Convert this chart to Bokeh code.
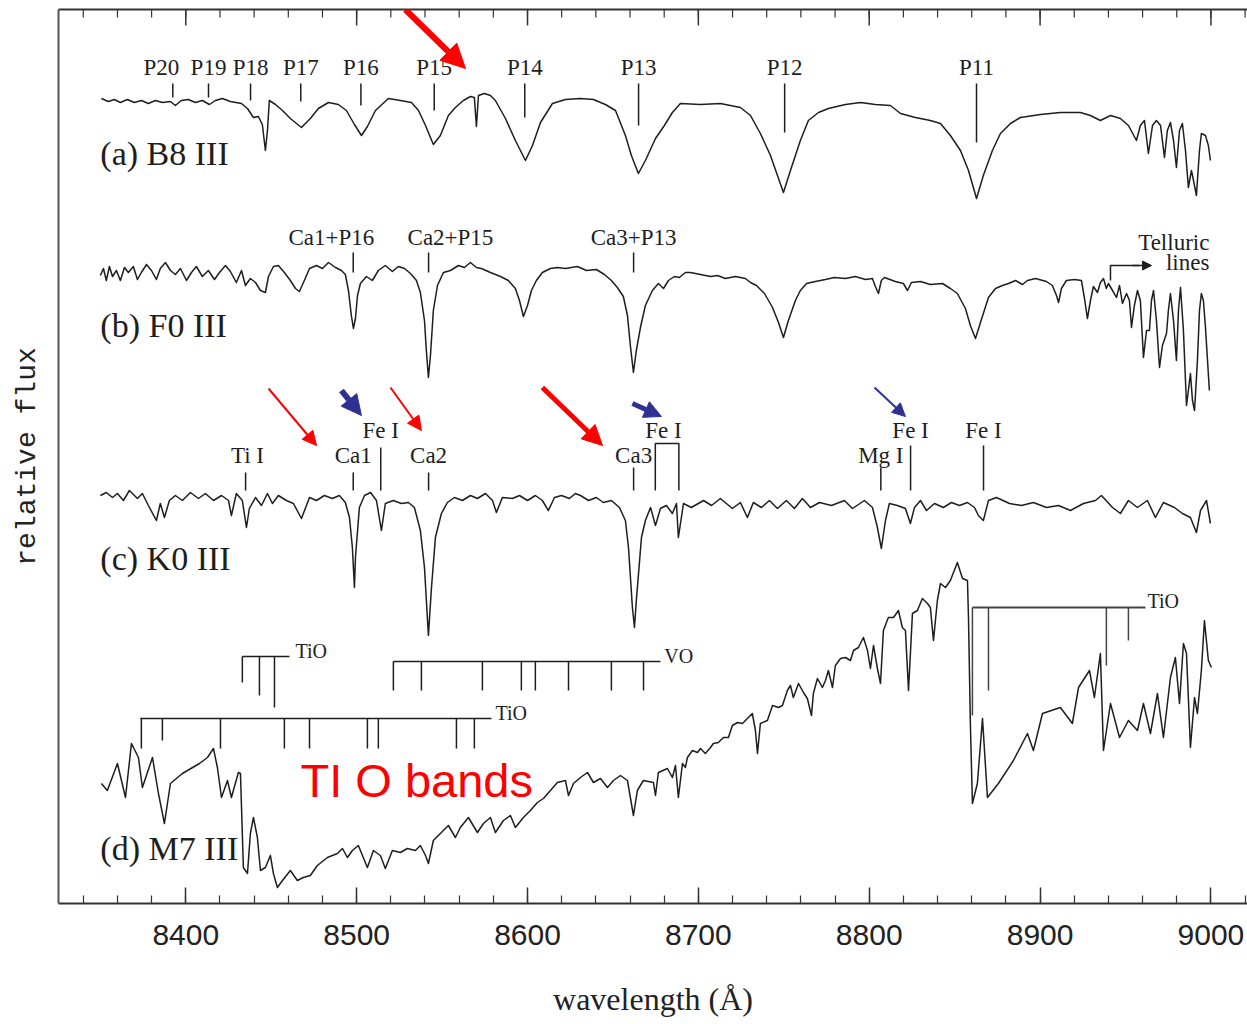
from bokeh.plotting import figure
from bokeh.models import Range1d, LinearAxis, FixedTicker, Arrow, NormalHead
from bokeh.core.properties import value
from bokeh.embed import file_html
from bokeh.resources import INLINE

# ---------------- data ----------------
major_ticks = [8400, 8500, 8600, 8700, 8800, 8900, 9000]
minor_ticks = list(range(8340, 9021, 20))

# (a) B8 III
a_wl = [8350.6, 8354.7, 8358.2, 8361.7, 8365.8, 8369.9, 8374.0, 8378.1, 8382.2, 8386.3,
        8391.0, 8393.9, 8397.4, 8401.5, 8405.6, 8409.7, 8413.8, 8417.3, 8421.4, 8426.1,
        8432.6, 8436.1, 8439.6, 8442.5, 8444.8, 8446.6, 8447.8, 8448.9, 8452.5, 8456.6,
        8461.2, 8467.7, 8472.9, 8477.6, 8483.5, 8489.3, 8494.0, 8498.7, 8502.8, 8506.3,
        8511.0, 8518.6, 8525.6, 8532.1, 8536.2, 8540.3, 8544.9, 8549.0, 8553.7, 8557.8,
        8562.5, 8566.6, 8568.9, 8570.1, 8571.3, 8574.8, 8578.3, 8581.2, 8587.1, 8592.9,
        8598.8, 8602.9, 8607.6, 8614.6, 8622.2, 8631.0, 8638.6, 8645.6, 8651.5, 8657.3,
        8660.8, 8664.9, 8669.0, 8674.9, 8680.1, 8684.8, 8689.5, 8701.2, 8712.9, 8724.6,
        8730.5, 8736.3, 8742.2, 8746.3, 8749.8, 8753.9, 8759.7, 8764.4, 8770.3, 8776.1,
        8786.1, 8794.9, 8803.6, 8812.4, 8818.3, 8827.0, 8835.8, 8841.7, 8847.5, 8853.4,
        8858.1, 8862.8, 8866.8, 8872.1, 8876.8, 8882.7, 8888.5, 8900.2, 8911.9, 8923.6,
        8929.5, 8935.3, 8941.2, 8947.0, 8951.7, 8956.4, 8958.7, 8961.1, 8963.4, 8965.8,
        8968.1, 8970.5, 8972.8, 8974.5, 8976.3, 8978.1, 8979.8, 8981.6, 8983.3, 8985.1,
        8986.8, 8988.6, 8989.8, 8991.5, 8993.3, 8994.4, 8996.8, 8998.5, 8999.7]
a_flux = [805, 802, 804, 801, 804, 801, 803, 800, 803, 801,
          802, 798, 803, 804, 801, 803, 799, 803, 805, 802,
          800, 795, 786, 787, 779, 753, 773, 803, 799, 793,
          785, 776, 785, 795, 801, 799, 793, 779, 768, 777,
          793, 805, 803, 801, 793, 778, 759, 768, 788, 796,
          803, 807, 806, 777, 808, 810, 808, 803, 785, 763,
          743, 758, 781, 800, 804, 805, 804, 799, 793, 768,
          748, 730, 743, 765, 778, 791, 800, 799, 800, 796,
          788, 770, 748, 728, 711, 733, 763, 783, 791, 795,
          799, 801, 799, 798, 790, 786, 783, 780, 768, 753,
          733, 705, 728, 753, 770, 780, 786, 789, 791, 791,
          788, 783, 788, 785, 778, 763, 778, 783, 750, 778,
          783, 778, 746, 773, 781, 763, 736, 773, 780, 753,
          716, 733, 723, 708, 753, 770, 768, 758, 743]

# (b) F0 III
b_wl = [8350.0, 8351.8, 8353.5, 8355.3, 8357.1, 8359.4, 8361.7, 8364.1, 8366.4, 8369.3,
        8371.7, 8374.0, 8377.0, 8379.9, 8382.8, 8385.1, 8388.1, 8391.0, 8393.9, 8396.9,
        8400.4, 8403.3, 8406.2, 8409.7, 8413.2, 8416.8, 8419.7, 8423.2, 8426.1, 8429.6,
        8432.6, 8434.9, 8437.8, 8440.8, 8443.7, 8446.6, 8448.4, 8451.3, 8454.2, 8457.7,
        8461.2, 8464.2, 8466.5, 8469.4, 8472.4, 8476.5, 8480.0, 8483.5, 8487.6, 8491.1,
        8493.4, 8495.2, 8496.9, 8498.1, 8499.3, 8500.5, 8502.2, 8505.7, 8509.2, 8512.7,
        8516.8, 8520.9, 8524.4, 8528.0, 8531.5, 8535.0, 8537.3, 8539.7, 8540.8, 8542.0,
        8543.2, 8544.9, 8547.3, 8550.8, 8554.9, 8559.6, 8563.1, 8566.6, 8570.1, 8573.0,
        8578.3, 8584.2, 8588.8, 8592.9, 8595.3, 8597.6, 8600.0, 8602.3, 8605.2, 8608.7,
        8613.4, 8617.5, 8622.2, 8629.2, 8634.5, 8640.3, 8645.0, 8649.1, 8652.6, 8656.1,
        8658.5, 8660.2, 8662.0, 8663.7, 8666.1, 8669.0, 8673.1, 8676.6, 8679.6, 8682.5,
        8686.0, 8688.9, 8692.4, 8695.4, 8701.2, 8707.1, 8711.2, 8715.8, 8721.7, 8727.5,
        8730.5, 8734.0, 8738.7, 8743.4, 8746.9, 8749.8, 8752.7, 8756.8, 8759.7, 8763.3,
        8768.5, 8774.4, 8779.6, 8786.1, 8791.9, 8797.8, 8801.9, 8803.6, 8805.4, 8807.1,
        8808.9, 8815.3, 8820.0, 8822.4, 8824.7, 8830.0, 8835.8, 8842.9, 8847.5, 8851.6,
        8856.3, 8859.2, 8862.2, 8865.1, 8869.8, 8873.9, 8878.0, 8881.5, 8885.6, 8889.7,
        8892.6, 8897.3, 8903.7, 8907.2, 8909.6, 8910.8, 8912.5, 8915.4, 8920.1, 8924.2,
        8926.0, 8927.7, 8929.5, 8931.2, 8933.6, 8935.3, 8937.1, 8938.8, 8940.0, 8942.4,
        8944.7, 8946.5, 8948.2, 8950.6, 8952.3, 8953.5, 8955.2, 8957.0, 8958.7, 8960.5,
        8962.3, 8964.0, 8965.2, 8966.4, 8968.1, 8969.9, 8971.6, 8974.0, 8975.1, 8976.3,
        8978.1, 8979.8, 8981.0, 8982.2, 8983.9, 8985.7, 8986.8, 8988.0, 8989.2, 8990.4,
        8992.1, 8993.3, 8994.4, 8995.6, 8996.8, 8998.0, 8999.1]
b_flux = [628, 635, 623, 637, 627, 633, 623, 636, 631, 637,
          624, 631, 639, 633, 624, 635, 641, 633, 629, 635,
          623, 631, 637, 627, 633, 624, 631, 638, 632, 621,
          633, 618, 625, 621, 613, 611, 627, 637, 638, 631,
          623, 615, 612, 623, 635, 638, 635, 641, 636, 633,
          629, 613, 588, 575, 585, 608, 620, 627, 623, 633,
          638, 632, 637, 635, 630, 623, 611, 583, 553, 526,
          548, 593, 618, 631, 633, 638, 636, 641, 636, 635,
          631, 627, 623, 615, 603, 587, 598, 613, 623, 631,
          635, 636, 635, 637, 633, 634, 629, 623, 616, 607,
          588, 558, 531, 553, 576, 598, 613, 620, 615, 623,
          627, 626, 631, 631, 629, 627, 628, 625, 627, 625,
          621, 618, 610, 596, 581, 566, 583, 603, 613, 620,
          622, 624, 626, 625, 627, 624, 625, 617, 610, 623,
          626, 622, 620, 613, 621, 622, 619, 620, 615, 610,
          595, 578, 565, 581, 606, 615, 618, 620, 623, 619,
          623, 625, 622, 618, 608, 601, 615, 623, 624, 623,
          605, 585, 603, 617, 611, 621, 625, 615, 620, 613,
          606, 618, 600, 610, 603, 576, 598, 613, 603, 546,
          573, 573, 603, 613, 583, 536, 558, 570, 593, 610,
          583, 543, 593, 616, 573, 498, 513, 530, 503, 493,
          543, 593, 610, 603, 576, 543, 513]

# (c) K0 III
c_wl = [8350.0, 8353.5, 8357.1, 8360.0, 8363.5, 8367.0, 8371.7, 8374.6, 8378.1, 8382.8,
        8385.1, 8387.5, 8390.4, 8393.9, 8398.0, 8402.7, 8407.4, 8411.5, 8416.2, 8420.9,
        8425.0, 8426.7, 8429.6, 8433.1, 8435.5, 8437.2, 8440.8, 8444.3, 8447.8, 8450.7,
        8454.2, 8458.9, 8463.0, 8467.7, 8472.4, 8476.5, 8481.1, 8485.8, 8489.9, 8493.4,
        8495.8, 8497.5, 8498.7, 8499.3, 8501.6, 8504.6, 8508.1, 8511.6, 8514.5, 8516.8,
        8521.5, 8526.2, 8530.3, 8533.8, 8537.3, 8539.7, 8542.0, 8543.8, 8546.1, 8549.6,
        8553.1, 8557.2, 8561.9, 8566.6, 8570.7, 8575.4, 8579.5, 8581.8, 8585.3, 8591.2,
        8595.3, 8600.0, 8604.6, 8608.7, 8612.2, 8615.8, 8619.9, 8624.5, 8628.0, 8631.0,
        8635.7, 8640.3, 8644.4, 8649.1, 8653.8, 8657.3, 8659.1, 8661.4, 8662.6, 8663.7,
        8666.7, 8669.0, 8672.0, 8674.9, 8677.8, 8681.3, 8684.8, 8687.2, 8688.3, 8691.3,
        8695.9, 8703.0, 8707.7, 8712.9, 8719.9, 8724.6, 8728.7, 8732.2, 8736.9, 8741.6,
        8746.3, 8751.5, 8756.2, 8760.9, 8765.6, 8770.9, 8777.9, 8785.5, 8790.2, 8797.2,
        8801.9, 8804.8, 8807.1, 8809.5, 8811.8, 8816.5, 8821.2, 8824.1, 8826.5, 8830.0,
        8833.5, 8838.2, 8843.4, 8848.1, 8852.8, 8857.5, 8861.6, 8863.9, 8866.8, 8869.8,
        8874.5, 8882.1, 8889.1, 8896.1, 8903.7, 8910.8, 8917.8, 8925.4, 8932.4, 8935.9,
        8942.4, 8947.0, 8951.7, 8957.0, 8962.8, 8967.5, 8972.2, 8978.6, 8983.3, 8988.0,
        8991.5, 8993.9, 8997.4, 8999.7]
c_flux = [408, 411, 406, 410, 403, 413, 405, 410, 398, 383,
          400, 386, 403, 408, 403, 411, 405, 410, 403, 408,
          403, 388, 410, 403, 376, 395, 406, 398, 410, 400,
          408, 403, 400, 385, 406, 403, 408, 405, 408, 401,
          386, 356, 316, 346, 396, 408, 411, 403, 373, 400,
          403, 400, 401, 396, 373, 336, 268, 316, 366, 390,
          401, 406, 403, 408, 405, 410, 403, 391, 406, 405,
          408, 403, 408, 403, 393, 406, 408, 405, 410, 408,
          403, 406, 401, 403, 396, 383, 356, 296, 276, 303,
          366, 383, 396, 378, 395, 398, 390, 400, 366, 400,
          396, 403, 398, 405, 395, 401, 386, 401, 396, 403,
          395, 403, 395, 405, 396, 401, 398, 403, 395, 403,
          396, 376, 355, 383, 400, 398, 395, 380, 396, 403,
          393, 400, 396, 401, 398, 401, 396, 388, 383, 403,
          406, 400, 398, 401, 396, 398, 393, 400, 403, 408,
          396, 390, 403, 396, 403, 386, 401, 396, 390, 386,
          371, 393, 403, 380]

# (d) M7 III
d_wl = [8350.6, 8354.1, 8360.0, 8364.7, 8368.2, 8372.3, 8374.6, 8380.5, 8384.0, 8387.5,
        8391.0, 8398.0, 8408.0, 8412.7, 8416.2, 8418.5, 8420.9, 8424.4, 8426.7, 8430.8,
        8432.0, 8433.7, 8436.1, 8437.8, 8439.6, 8441.9, 8443.7, 8446.6, 8449.5, 8451.3,
        8453.6, 8456.6, 8461.2, 8465.3, 8468.8, 8472.9, 8477.0, 8482.9, 8488.7, 8491.7,
        8494.6, 8497.5, 8501.0, 8506.3, 8509.8, 8513.9, 8516.8, 8520.9, 8525.6, 8529.7,
        8534.4, 8537.3, 8540.3, 8542.0, 8544.9, 8549.0, 8553.7, 8557.8, 8560.7, 8565.4,
        8570.7, 8574.2, 8578.3, 8581.2, 8585.9, 8590.0, 8592.9, 8597.6, 8601.7, 8605.8,
        8609.3, 8613.4, 8617.5, 8622.2, 8624.0, 8626.9, 8631.0, 8635.1, 8638.6, 8642.7,
        8646.8, 8650.3, 8654.4, 8658.5, 8660.2, 8662.0, 8664.3, 8667.8, 8673.7, 8674.9,
        8676.6, 8681.9, 8684.8, 8686.6, 8688.3,
        8690.7, 8692.4, 8693.6, 8696.5, 8699.5, 8701.2, 8704.1, 8707.1, 8708.8, 8711.7,
        8714.7, 8717.6, 8719.9, 8722.9, 8725.8, 8728.7, 8731.6, 8733.4, 8734.6, 8736.3,
        8740.4, 8743.4, 8746.9, 8749.2, 8752.1, 8753.9, 8755.6, 8758.6, 8761.5, 8763.8,
        8766.2, 8767.3, 8769.7, 8772.6, 8774.4, 8776.1, 8778.5, 8780.2, 8783.2, 8786.1,
        8789.0, 8790.8, 8793.7, 8796.6, 8799.0, 8800.7, 8802.5, 8804.8, 8806.6, 8808.3,
        8811.2, 8814.2, 8817.1, 8819.4, 8821.2, 8823.0, 8825.3, 8828.2, 8831.1, 8834.1,
        8835.8, 8837.6, 8839.9, 8841.7, 8844.6, 8847.5, 8851.6, 8854.6, 8857.5, 8858.1,
        8859.2, 8860.4,
        8863.3, 8866.3, 8869.2, 8875.6, 8884.4, 8892.6, 8896.1, 8901.4, 8911.9, 8918.9,
        8922.5, 8928.9, 8931.8, 8935.3, 8937.1, 8941.2, 8946.5, 8951.7, 8957.0, 8960.5,
        8964.6, 8968.7, 8972.2, 8976.3, 8979.2, 8981.6, 8983.9, 8985.7, 8988.0, 8990.4,
        8992.1, 8994.4, 8996.2, 8998.5, 9000.3]
d_flux = [120, 113, 140, 106, 160, 146, 116, 146, 110, 80,
          120, 130, 140, 146, 155, 136, 106, 123, 106, 131,
          130, 36, 30, 70, 86, 66, 33, 36, 48, 30,
          16, 23, 33, 23, 26, 28, 38, 46, 50, 55,
          46, 53, 58, 36, 53, 48, 35, 53, 51, 55,
          53, 58, 48, 40, 63, 70, 78, 66, 76, 86,
          71, 80, 86, 71, 83, 88, 76, 86, 93, 101,
          105, 113, 121, 123, 108, 120, 126, 131, 121, 125,
          116, 123, 128, 123, 106, 88, 113, 123, 121, 108,
          131, 135, 126, 138, 106,
          140, 136, 146, 153, 151, 155, 150, 156, 160, 161,
          166, 166, 178, 181, 180, 185, 190, 173, 150, 180,
          183, 198, 196, 198, 213, 218, 206, 220, 211, 205,
          188, 210, 225, 216, 223, 233, 216, 238, 245, 246,
          243, 253, 256, 266, 253, 235, 258, 235, 220, 273,
          286, 286, 293, 276, 273, 213, 290, 293, 305, 300,
          296, 263, 303, 320, 316, 323, 341, 325, 323, 286,
          180, 100,
          120, 185, 106, 120, 143, 170, 153, 190, 196, 180,
          216, 233, 206, 250, 153, 200, 166, 183, 173, 200,
          170, 210, 166, 226, 246, 200, 260, 250, 156, 206,
          190, 233, 283, 243, 236]

# panel names
panel_names = ["(a) B8 III", "(b) F0 III", "(c) K0 III", "(d) M7 III"]
panel_name_x = [8350.0, 8350.0, 8350.0, 8350.0]
panel_name_y = [750, 578, 345, 55]

# (a) Paschen lines
paschen_names = ["P20", "P19", "P18", "P17", "P16", "P15", "P14", "P13", "P12", "P11"]
paschen_wl = [8392.4, 8413.3, 8437.9, 8467.3, 8502.5, 8545.4, 8598.4, 8665.0, 8750.5, 8862.8]
paschen_label_x = [8385.7, 8413.3, 8437.9, 8467.3, 8502.5, 8545.4, 8598.4, 8665.0, 8750.5, 8862.8]
paschen_tick_top = [820] * 10
paschen_tick_bottom = [806, 806, 803, 802, 798, 793, 786, 778, 771, 761]
paschen_label_y = [836] * 10

# (b) Ca + Paschen blends
b_names = ["Ca1+P16", "Ca2+P15", "Ca3+P13"]
b_line_wl = [8498.0, 8542.1, 8662.1]
b_label_x = [8485.2, 8554.9, 8662.1]
b_tick_top = [651, 651, 651]
b_tick_bottom = [631, 631, 631]
b_label_y = [666, 666, 666]

# (c) metal lines
c_tick_wl = [8435.0, 8498.0, 8514.1, 8542.1, 8662.1, 8806.8, 8824.2, 8866.9]
c_tick_top = [431, 431, 456, 431, 436, 436, 458, 458]
c_tick_bottom = [413] * 8
c_fe_pair_x = [8674.8, 8674.8, 8688.6, 8688.6]
c_fe_pair_y = [413, 460, 460, 413]
c_names = ["Ti I", "Ca1", "Fe I", "Ca2", "Ca3", "Fe I", "Mg I", "Fe I", "Fe I"]
c_label_x = [8436.1, 8498.0, 8514.1, 8542.1, 8662.1, 8679.6, 8806.8, 8824.2, 8866.9]
c_label_y = [448, 448, 473, 448, 448, 473, 448, 473, 473]

# telluric marker
tell_x = [8941.2, 8941.2, 8958.0]
tell_y = [623, 638, 638]
tell_names = ["Telluric", "lines"]
tell_label_x = [8999.1, 8999.1]
tell_label_y = [661, 641]

# (d) molecular band combs
tio1_span = [8433.1, 8460.7]; tio1_y = 247
tio1_teeth = [8433.1, 8443.1, 8451.9]; tio1_bottom = [221, 208, 196]
vo_span = [8521.5, 8677.8]; vo_y = 242
vo_teeth = [8521.5, 8537.9, 8573.6, 8596.4, 8604.6, 8624.0, 8649.1, 8667.9]; vo_bottom = [213] * 8
tio2_span = [8373.4, 8578.9]; tio2_y = 185
tio2_teeth = [8374.0, 8386.3, 8420.3, 8457.7, 8472.4, 8506.3, 8512.7, 8558.4, 8568.9]
tio2_bottom = [155, 163, 155, 155, 155, 155, 155, 155, 155]
tio3_span = [8860.4, 8961.7]; tio3_y = 296
tio3_teeth = [8860.4, 8869.8, 8938.8, 8951.7]; tio3_bottom = [188, 213, 238, 263]
band_names = ["TiO", "VO", "TiO", "TiO"]
band_label_x = [8464.2, 8680.1, 8581.2, 8962.8]
band_label_y = [253, 248, 191, 303]

# red annotation
note_text = ["TI O bands"]
note_x = [8467.1]
note_y = [123]

# arrows
arrow_x0 = [8528.5, 8448.4, 8491.1, 8519.8, 8608.7, 8661.4, 8803.1]
arrow_y0 = [894, 515, 513, 516, 516, 500, 516]
arrow_x1 = [8563.7, 8476.5, 8502.8, 8537.9, 8643.9, 8678.4, 8821.2]
arrow_y1 = [835, 458, 488, 473, 458, 487, 487]
arrow_color = ["#ff0000", "#ff0000", "#2e3192", "#ff0000", "#ff0000", "#2e3192", "#2e3192"]
arrow_width = [6, 2, 6, 2, 5, 5, 2]
arrow_head = [24, 14, 20, 14, 20, 17, 13]

# top-frame tick lengths (flux units, 1 unit = 1 px here)
Y_TOP = 894
MAJOR_LEN = 16
MINOR_LEN = 8

# ---------------- figure ----------------
INK = "#1e1e1e"
AX = "#333333"
SERIF = value("Liberation Serif")

p = figure(width=1247, height=1024, output_backend="svg", toolbar_location=None,
           x_range=Range1d(8325.5, 9021.4), y_range=Range1d(0, Y_TOP),
           x_axis_location=None, y_axis_location=None,
           min_border_left=58, min_border_right=0, min_border_top=9, min_border_bottom=121)
p.outline_line_color = None
p.background_fill_color = "white"
p.border_fill_color = "white"
p.xgrid.visible = False
p.ygrid.visible = False

ticker = FixedTicker(ticks=major_ticks, minor_ticks=minor_ticks)

bottom = LinearAxis(ticker=ticker, axis_label="wavelength (Å)")
bottom.axis_line_width = 2
bottom.axis_line_color = AX
bottom.major_tick_in = MAJOR_LEN
bottom.major_tick_out = 0
bottom.minor_tick_in = MINOR_LEN
bottom.minor_tick_out = 0
bottom.major_tick_line_width = 1.5
bottom.minor_tick_line_width = 1.2
bottom.major_tick_line_color = AX
bottom.minor_tick_line_color = AX
bottom.major_label_text_font = "Liberation Sans"
bottom.major_label_text_font_size = "30px"
bottom.major_label_text_color = "#222222"
bottom.major_label_standoff = 21
bottom.axis_label_text_font = "Liberation Serif"
bottom.axis_label_text_font_size = "32px"
bottom.axis_label_text_font_style = "normal"
bottom.axis_label_text_color = "#222222"
bottom.axis_label_standoff = 33
p.add_layout(bottom, "below")

# top frame line (no ticks / labels of its own)
top = LinearAxis(ticker=FixedTicker(ticks=[]))
top.axis_line_width = 2
top.axis_line_color = AX
top.major_tick_line_color = None
top.minor_tick_line_color = None
top.major_label_standoff = 0
p.add_layout(top, "above")

left = LinearAxis(ticker=FixedTicker(ticks=[]), axis_label="relative flux")
left.axis_line_width = 2
left.axis_line_color = "#555555"
left.major_tick_line_color = None
left.minor_tick_line_color = None
left.major_label_standoff = 0
left.axis_label_text_font = "Liberation Mono"
left.axis_label_text_font_size = "28px"
left.axis_label_text_font_style = "normal"
left.axis_label_text_color = "#222222"
left.axis_label_standoff = 16
p.add_layout(left, "left")

# inward ticks along the top frame, at the same tick wavelengths
p.segment(x0=major_ticks, y0=[Y_TOP] * len(major_ticks), x1=major_ticks,
          y1=[Y_TOP - MAJOR_LEN] * len(major_ticks), line_color=AX, line_width=1.5)
p.segment(x0=minor_ticks, y0=[Y_TOP] * len(minor_ticks), x1=minor_ticks,
          y1=[Y_TOP - MINOR_LEN] * len(minor_ticks), line_color=AX, line_width=1.2)

# spectra
for wl, fl in [(a_wl, a_flux), (b_wl, b_flux), (c_wl, c_flux), (d_wl, d_flux)]:
    p.line(wl, fl, line_color=INK, line_width=1.5, line_join="round")

# line identification ticks
p.segment(x0=paschen_wl, y0=paschen_tick_top, x1=paschen_wl, y1=paschen_tick_bottom,
          line_color=INK, line_width=1.5)
p.segment(x0=b_line_wl, y0=b_tick_top, x1=b_line_wl, y1=b_tick_bottom,
          line_color=INK, line_width=1.5)
p.segment(x0=c_tick_wl, y0=c_tick_top, x1=c_tick_wl, y1=c_tick_bottom,
          line_color=INK, line_width=1.5)
p.line(c_fe_pair_x, c_fe_pair_y, line_color=INK, line_width=1.5)
p.line(tell_x, tell_y, line_color=INK, line_width=1.5)
p.add_layout(Arrow(end=NormalHead(size=9, fill_color=INK, line_color=INK),
                   x_start=tell_x[2] - 4, y_start=tell_y[2], x_end=8965.2, y_end=tell_y[2],
                   line_color=INK, line_width=1.5))

# band combs
for span, yy, teeth, bots, lw, col in [
        (tio1_span, tio1_y, tio1_teeth, tio1_bottom, 1.5, INK),
        (vo_span, vo_y, vo_teeth, vo_bottom, 1.5, INK),
        (tio2_span, tio2_y, tio2_teeth, tio2_bottom, 1.5, INK),
        (tio3_span, tio3_y, tio3_teeth, tio3_bottom, 2.2, "#444444")]:
    p.segment(x0=[span[0]], y0=[yy], x1=[span[1]], y1=[yy], line_color=col, line_width=lw)
    p.segment(x0=teeth, y0=[yy] * len(teeth), x1=teeth, y1=bots, line_color=col, line_width=1.5)

# texts
p.text(x=panel_name_x, y=panel_name_y, text=panel_names, text_font=SERIF,
       text_font_size="34px", text_color=INK, text_align="left", text_baseline="middle")
p.text(x=paschen_label_x, y=paschen_label_y, text=paschen_names, text_font=SERIF,
       text_font_size="23px", text_color=INK, text_align="center", text_baseline="middle")
p.text(x=b_label_x, y=b_label_y, text=b_names, text_font=SERIF,
       text_font_size="23px", text_color=INK, text_align="center", text_baseline="middle")
p.text(x=c_label_x, y=c_label_y, text=c_names, text_font=SERIF,
       text_font_size="23px", text_color=INK, text_align="center", text_baseline="middle")
p.text(x=tell_label_x, y=tell_label_y, text=tell_names, text_font=SERIF,
       text_font_size="23px", text_color=INK, text_align="right", text_baseline="middle")
p.text(x=band_label_x, y=band_label_y, text=band_names, text_font=SERIF,
       text_font_size="20px", text_color=INK, text_align="left", text_baseline="middle")
p.text(x=note_x, y=note_y, text=note_text, text_font=value("Liberation Sans"),
       text_font_size="47px", text_color="#ff0000", text_align="left", text_baseline="middle")

# arrows
for i in range(len(arrow_x0)):
    p.add_layout(Arrow(end=NormalHead(size=arrow_head[i], fill_color=arrow_color[i],
                                      line_color=arrow_color[i]),
                       x_start=arrow_x0[i], y_start=arrow_y0[i],
                       x_end=arrow_x1[i], y_end=arrow_y1[i],
                       line_color=arrow_color[i], line_width=arrow_width[i]))

open("out.html", "w").write(file_html(p, INLINE))
